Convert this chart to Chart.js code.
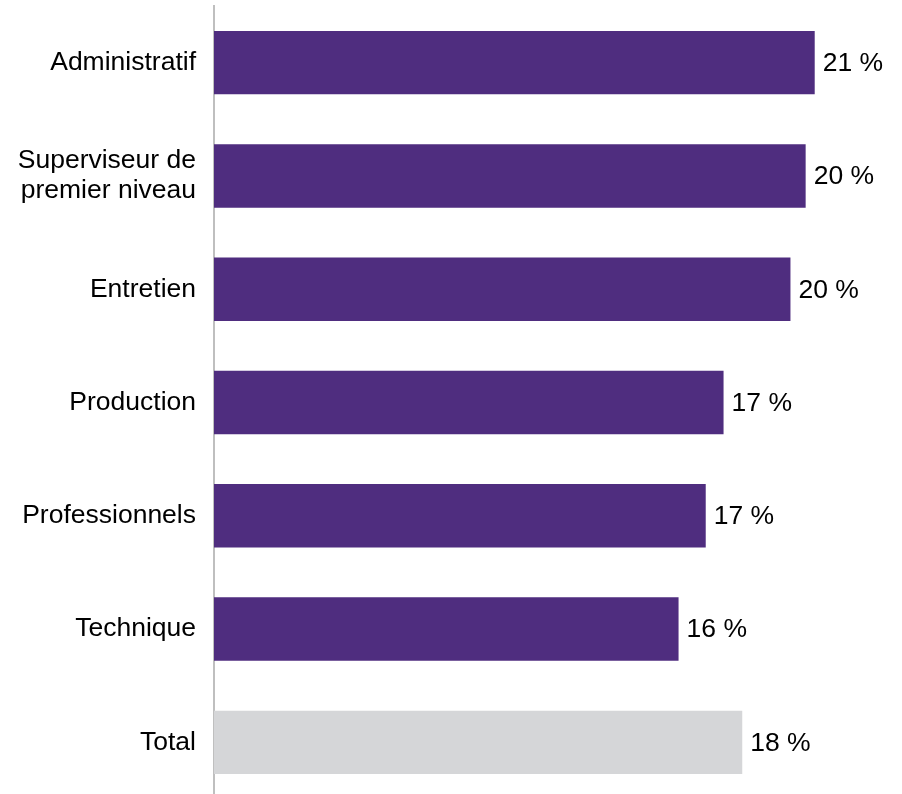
<!DOCTYPE html>
<html>
<head>
<meta charset="utf-8">
<script src="https://cdn.jsdelivr.net/npm/chart.js@4/dist/chart.umd.min.js"></script>
<style>
  html, body { margin: 0; padding: 0; background: #ffffff; overflow: hidden; }
  #wrap { width: 902px; height: 794px; overflow: hidden; }
  #c { display: block; }
</style>
</head>
<body>
<div id="wrap"><canvas id="c" width="902" height="800"></canvas></div>
<script>
const categories = [
  "Administratif",
  ["Superviseur de", "premier niveau"],
  "Entretien",
  "Production",
  "Professionnels",
  "Technique",
  "Total"
];
const values = [20.56, 20.25, 19.73, 17.44, 16.83, 15.90, 18.08];
const barColors = ["#4F2D7F", "#4F2D7F", "#4F2D7F", "#4F2D7F", "#4F2D7F", "#4F2D7F", "#D5D6D8"];
const xMax = 23;

const FONT = "'Liberation Sans', Arial, sans-serif";

const valueLabels = {
  id: 'valueLabels',
  afterDatasetsDraw(chart) {
    const ctx = chart.ctx;
    const meta = chart.getDatasetMeta(0);
    ctx.save();
    ctx.font = "26.5px " + FONT;
    ctx.fillStyle = "#000000";
    ctx.textAlign = "left";
    ctx.textBaseline = "middle";
    meta.data.forEach((bar, i) => {
      const v = chart.data.datasets[0].data[i];
      ctx.fillText(Math.round(v) + " %", bar.x + 8, bar.y + 1);
    });
    ctx.restore();
  }
};

new Chart(document.getElementById('c'), {
  type: 'bar',
  data: {
    labels: categories,
    datasets: [{
      data: values,
      backgroundColor: barColors,
      borderWidth: 0,
      categoryPercentage: 1.0,
      barPercentage: 0.56
    }]
  },
  options: {
    indexAxis: 'y',
    responsive: false,
    animation: false,
    devicePixelRatio: 1,
    layout: { padding: { top: 6, bottom: 1, left: 0, right: 16 } },
    plugins: {
      legend: { display: false },
      tooltip: { enabled: false }
    },
    scales: {
      x: {
        display: false,
        min: 0,
        max: xMax
      },
      y: {
        afterFit(scale) {
          scale.width = 214;
          scale.paddingTop = 0;
          scale.paddingBottom = 0;
        },
        grid: { display: false, drawTicks: false },
        border: { display: true, color: '#BFBFBF', width: 2 },
        ticks: {
          padding: 18,
          color: '#000000',
          font: { family: FONT, size: 26.5, lineHeight: 1.15 }
        }
      }
    }
  },
  plugins: [valueLabels]
});
</script>
</body>
</html>
